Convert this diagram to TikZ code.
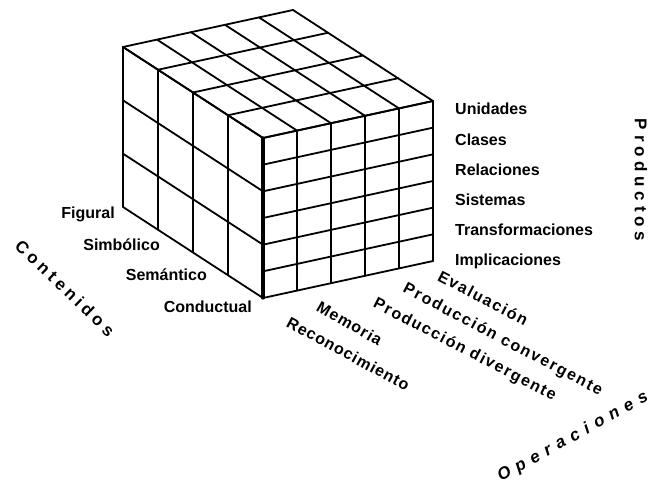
\documentclass[tikz,border=0pt]{standalone}
\usepackage{fontspec}
\setmainfont{Liberation Sans}
\begin{document}
\begin{tikzpicture}[x=1pt,y=-1pt,
  grid/.style={line width=1.8pt, line cap=round, line join=round},
  edge/.style={line width=3.2pt, line cap=round},
  lab/.style={font=\fontsize{16}{18}\selectfont\bfseries, inner sep=0pt},
  axislab/.style={font=\fontsize{17}{18}\selectfont\bfseries, inner sep=0pt}]
\fill[white] (0,0) rectangle (650,484);
\useasboundingbox (0,0) rectangle (650,484);
\def\Dx{263}\def\Dy{138}
\def\ux{34}\def\uy{-7.4}
\def\wx{-35}\def\wy{-22.75}
\def\H{160}
% front face (operations x products)
\foreach \i in {0,...,5} \draw[grid] ({\Dx+\i*\ux},{\Dy+\i*\uy}) -- ++(0,\H);
\foreach \j in {0,...,6} \draw[grid] ({\Dx},{\Dy+\j*\H/6}) -- ++({5*\ux},{5*\uy});
% left face (contents x products)
\foreach \k in {1,...,4} \draw[grid] ({\Dx+\k*\wx},{\Dy+\k*\wy}) -- ++(0,\H);
\foreach \j in {0,...,3} \draw[grid] ({\Dx},{\Dy+\j*\H/3}) -- ++({4*\wx},{4*\wy});
% top face
\foreach \k in {0,...,4} \draw[grid] ({\Dx+\k*\wx},{\Dy+\k*\wy}) -- ++({5*\ux},{5*\uy});
\foreach \i in {0,...,5} \draw[grid] ({\Dx+\i*\ux},{\Dy+\i*\uy}) -- ++({4*\wx},{4*\wy});
% thick front edge
\draw[edge] (\Dx,\Dy) -- ++(0,\H);
% products
\node[lab, anchor=base west] (unid) at (455,114) {Unidades};
\node[lab, anchor=base west] (clas) at (455,145) {Clases};
\node[lab, anchor=base west] (rela) at (455,175) {Relaciones};
\node[lab, anchor=base west] (sist) at (455,205) {Sistemas};
\node[lab, anchor=base west] (tran) at (455,235) {Transformaciones};
\node[lab, anchor=base west] (impl) at (455,265) {Implicaciones};
\node[axislab, rotate=-90] (prod) at (641,180) {\addfontfeatures{LetterSpace=28}Productos};
% contents
\node[lab, anchor=base east] (figu) at (115,218) {Figural};
\node[lab, anchor=base east] (simb) at (160,250) {Simbólico};
\node[lab, anchor=base east] (sema) at (207,280) {Semántico};
\node[lab, anchor=base east] (cond) at (252,312) {Conductual};
\node[axislab, rotate=-44] (cont) at (65,288) {\addfontfeatures{LetterSpace=24}Contenidos};
% operations
\node[lab, anchor=west, rotate=-28.5] (reco) at (288,321) {\addfontfeatures{LetterSpace=6}Reconocimiento};
\node[lab, anchor=west, rotate=-30] (memo) at (318,305) {\addfontfeatures{LetterSpace=7}Memoria};
\node[lab, anchor=west, rotate=-27.5] (pdiv) at (374,303) {\addfontfeatures{LetterSpace=10}Producción divergente};
\node[lab, anchor=west, rotate=-27.8] (pcon) at (404,288) {\addfontfeatures{LetterSpace=11}Producción convergente};
\node[lab, anchor=west, rotate=-27.5] (eval) at (439,275) {\addfontfeatures{LetterSpace=10}Evaluación};
\node[axislab, rotate=29] (oper) at (573,437) {\itshape\addfontfeatures{LetterSpace=39}Operaciones};
\end{tikzpicture}
\end{document}
